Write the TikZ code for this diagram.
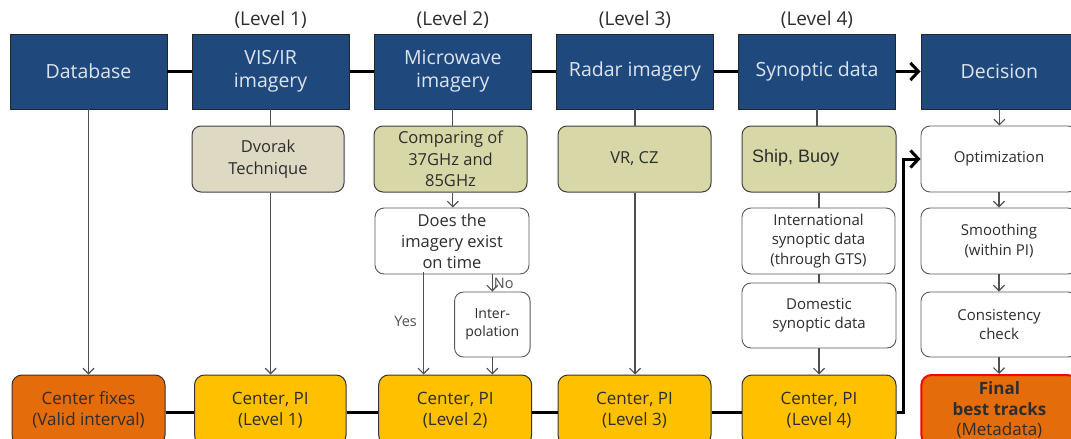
\documentclass[tikz,border=0pt]{standalone}
\usepackage{fontspec}
\setmainfont{Open Sans}
\newfontfamily\arialf{Liberation Sans}
\usetikzlibrary{arrows.meta}
\definecolor{topblue}{RGB}{31,73,125}
\definecolor{toptext}{RGB}{222,228,238}
\definecolor{dvorakfill}{RGB}{221,217,195}
\definecolor{olivefill}{RGB}{215,215,168}
\definecolor{goldfill}{RGB}{255,192,0}
\definecolor{orangefill}{RGB}{228,108,10}
\definecolor{conngray}{RGB}{80,80,80}
\definecolor{txtdark}{RGB}{45,45,45}
\begin{document}
\begin{tikzpicture}[x=1pt,y=-1pt,
  topbox/.style={draw=black!85, line width=0.8pt, fill=topblue, text=toptext,
    minimum width=157pt, minimum height=75pt, inner sep=0pt, align=center,
    font=\fontsize{19.5}{23}\selectfont},
  lvl/.style={text=txtdark, inner sep=0pt, font=\fontsize{19}{21}\selectfont},
  olivebox/.style={draw=black!75, line width=1pt, rounded corners=9pt, fill=olivefill,
    minimum width=153pt, minimum height=66pt, inner sep=0pt, align=center,
    text=txtdark, font=\fontsize{16.5}{21.5}\selectfont},
  whitebox/.style={draw=black!65, line width=0.9pt, rounded corners=9pt, fill=white,
    minimum width=154pt, minimum height=66pt, inner sep=0pt, align=center,
    text=txtdark, font=\fontsize{15}{19.5}\selectfont},
  botbox/.style={draw=black!80, line width=1pt, rounded corners=10pt, fill=goldfill,
    minimum width=153pt, minimum height=70pt, inner sep=0pt, align=center,
    text=txtdark, font=\fontsize{17}{20.7}\selectfont},
  conn/.style={draw=conngray, line width=1.2pt},
  arr/.style={conn, -{Straight Barb[length=5.5pt,width=11pt]}},
  mainline/.style={draw=black, line width=3pt},
  mainarr/.style={mainline, -{Straight Barb[length=8pt,width=17pt,line width=3pt]}},
  lab/.style={text=conngray, inner sep=0pt, font=\fontsize{14.5}{17}\selectfont}
]
\useasboundingbox (0,0) rectangle (1071,439);
\clip (0,0) rectangle (1071,439);

% top row
\node[topbox] (db)    at (88.5,71.5)  {Database};
\node[topbox] (vis)   at (270.6,71.5) {VIS/IR\\imagery};
\node[topbox] (mw)    at (452.8,71.5) {Microwave\\imagery};
\node[topbox] (radar) at (635,71.5)   {Radar imagery};
\node[topbox] (syn)   at (817,71.5)   {Synoptic data};
\node[topbox] (dec)   at (999.4,71.5) {Decision};

\node[lvl] (l1lab) at (270.6,20) {(Level 1)};
\node[lvl] (l2lab) at (452.8,20) {(Level 2)};
\node[lvl] (l3lab) at (635,20)   {(Level 3)};
\node[lvl] (l4lab) at (817,20)   {(Level 4)};

% second row
\node[olivebox, fill=dvorakfill, minimum width=152pt] (dvorak) at (268,159) {Dvorak\\Technique};
\node[olivebox] (comp) at (450.5,159) {Comparing of\\37GHz and\\85GHz};
\node[olivebox] (vrcz) at (634.5,159) {VR, CZ};
\node[olivebox, minimum width=154pt] (ship) at (819,159)
  {\arialf\fontsize{18}{21}\selectfont\raisebox{6pt}{\makebox[134pt][l]{Ship, Buoy}}};
\node[whitebox, minimum width=156pt] (opt) at (999,159) {Optimization};

% white boxes
\node[whitebox, font=\fontsize{16.5}{21}\selectfont] (does) at (452,241) {Does the\\imagery exist\\on time};
\node[whitebox, minimum width=75.5pt, minimum height=65pt, font=\fontsize{14}{18}\selectfont] (interp) at (492.3,324.5) {Inter-\\polation};
\node[whitebox, minimum width=153pt] (intl) at (818.5,241) {International\\synoptic data\\(through GTS)};
\node[whitebox, minimum height=65pt] (dom) at (819,315.5) {Domestic\\synoptic data};
\node[whitebox, minimum width=156pt] (smooth) at (999,241) {Smoothing\\(within PI)};
\node[whitebox, minimum width=156pt, minimum height=65pt] (cons) at (999,324.5) {Consistency\\check};

% bottom row
\node[botbox, fill=orangefill] (cf) at (88.5,410) {Center fixes\\(Valid interval)};
\node[botbox, minimum width=151.5pt] (c1) at (270.3,410) {Center, PI\\(Level 1)};
\node[botbox] (c2) at (455.2,410) {Center, PI\\(Level 2)};
\node[botbox] (c3) at (634.5,410) {Center, PI\\(Level 3)};
\node[botbox, minimum width=154pt] (c4) at (819,410) {Center, PI\\(Level 4)};
\node[botbox, fill=orangefill, draw=red, line width=2pt, minimum width=156pt] (fin) at (999.4,410)
  {\textbf{Final}\\\textbf{best tracks}\\(Metadata)};

% thick main lines
\draw[mainline] (db.east) -- (vis.west);
\draw[mainline] (vis.east) -- (mw.west);
\draw[mainline] (mw.east) -- (radar.west);
\draw[mainline] (radar.east) -- (syn.west);
\draw[mainarr] (syn.east) -- (dec.west);

\draw[mainline] ([yshift=-2pt]cf.east) -- ([yshift=-2pt]c1.west);
\draw[mainline] ([yshift=-2pt]c1.east) -- ([yshift=-2pt]c2.west);
\draw[mainline] ([yshift=-2pt]c2.east) -- ([yshift=-2pt]c3.west);
\draw[mainline] ([yshift=-2pt]c3.east) -- ([yshift=-2pt]c4.west);
\draw[mainarr] ([yshift=-2pt]c4.east) -- ++(7,0) |- (opt.west);

% thin connectors
\draw[arr] (db.south) -- (db.south |- cf.north);
\draw[conn] (vis.south) -- (vis.south |- dvorak.north);
\draw[arr] (vis.south |- dvorak.south) -- (vis.south |- c1.north);
\draw[conn] (mw.south) -- (mw.south |- comp.north);
\draw[arr] (mw.south |- comp.south) -- (mw.south |- does.north);
\draw[arr] ([xshift=-28.5pt,yshift=2pt]does.south) -- ([xshift=-28.5pt]does.south |- c2.north)
  node[lab, pos=0.48, left=6pt] (yes) {Yes};
\draw[arr] (interp.north |- does.south) -- (interp.north)
  node[lab, pos=0.55, right=1pt] (no) {No};
\draw[arr] (interp.south) -- (interp.south |- c2.north);
\draw[conn] (radar.south) -- (radar.south |- vrcz.north);
\draw[arr] (radar.south |- vrcz.south) -- (radar.south |- c3.north);
\draw[conn] (syn.south) -- (syn.south |- ship.north);
\draw[conn] (ship.south) -- (ship.south |- intl.north);
\draw[conn] (ship.south |- intl.south) -- (ship.south |- dom.north);
\draw[arr] (dom.south) -- (dom.south |- c4.north);
\draw[arr] (dec.south) -- (dec.south |- opt.north);
\draw[arr] (opt.south) -- (smooth.north);
\draw[arr] (smooth.south) -- (cons.north);
\draw[arr] (cons.south) -- (cons.south |- fin.north);
\end{tikzpicture}
\end{document}
